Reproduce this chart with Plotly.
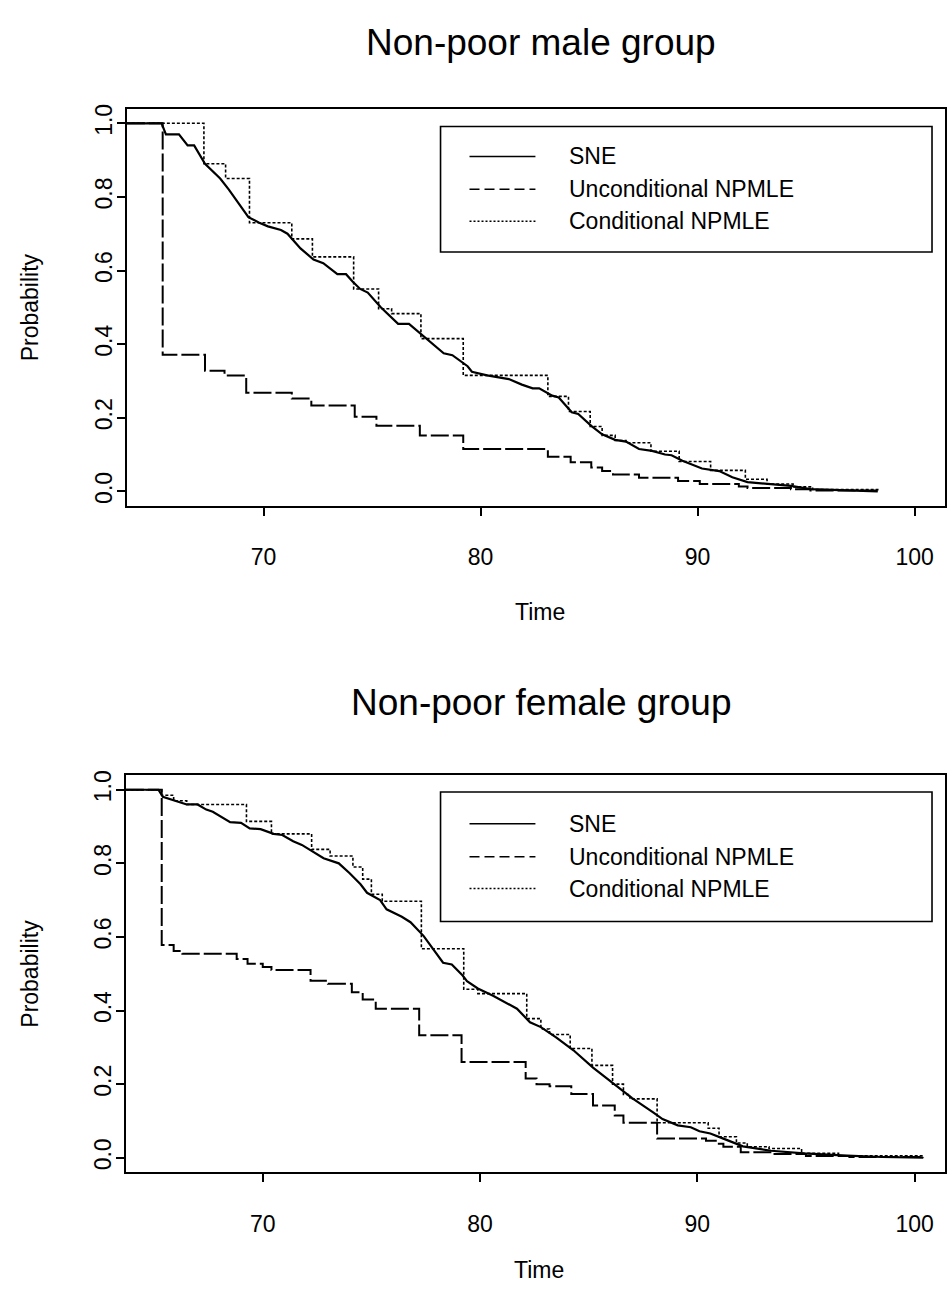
import plotly.graph_objects as go

# ---------------- data ----------------
# Non-poor male group
male_sne_t = [63.7, 65.3, 65.5, 66.1, 66.5, 66.8, 67.3, 68.0, 68.4, 69.3, 69.8, 70.2, 70.8, 71.1,
              71.7, 72.3, 72.75, 73.4, 73.8, 74.1, 74.45, 74.8, 75.4, 76.2, 76.7, 77.2, 78.3, 78.7,
              79.4, 79.6, 80.3, 81.3, 81.9, 82.4, 82.7, 83.3, 83.6, 84.2, 84.5, 85.1, 85.6, 86.2,
              86.7, 87.3, 87.9, 88.5, 88.8, 89.3, 90.2, 91.0, 91.6, 92.3, 94.3, 95.2, 98.3]
male_sne_p = [1.0, 1.0, 0.97, 0.97, 0.94, 0.94, 0.89, 0.85, 0.82, 0.745, 0.73, 0.72, 0.71, 0.70,
              0.66, 0.63, 0.62, 0.59, 0.59, 0.57, 0.55, 0.54, 0.50, 0.455, 0.455, 0.43, 0.375, 0.37,
              0.34, 0.325, 0.315, 0.305, 0.29, 0.28, 0.28, 0.26, 0.255, 0.215, 0.21, 0.178, 0.155, 0.14,
              0.135, 0.115, 0.11, 0.1, 0.098, 0.083, 0.062, 0.055, 0.038, 0.025, 0.015, 0.006, 0.0]

male_unc_t = [63.7, 65.35, 67.3, 68.2, 69.2, 71.3, 72.2, 74.2, 75.2, 77.2, 79.2, 83.1, 84.15,
              85.1, 85.6, 86.1, 87.3, 89.1, 90.1, 91.9, 92.3, 94.3, 95.2, 98.3]
male_unc_p = [1.0, 0.371, 0.328, 0.315, 0.268, 0.252, 0.233, 0.203, 0.178, 0.152, 0.115, 0.094, 0.079,
              0.065, 0.055, 0.046, 0.037, 0.028, 0.02, 0.013, 0.009, 0.006, 0.002, 0.0]

male_con_t = [63.7, 67.25, 68.25, 69.35, 71.3, 72.25, 74.15, 75.3, 75.9, 77.25, 79.2, 83.1, 84.05,
              85.05, 85.6, 86.2, 86.7, 87.85, 89.15, 90.6, 92.2, 93.2, 94.4, 95.3, 98.3]
male_con_p = [1.0, 0.89, 0.85, 0.73, 0.686, 0.637, 0.55, 0.496, 0.483, 0.415, 0.315, 0.258, 0.217,
              0.176, 0.152, 0.138, 0.132, 0.109, 0.081, 0.057, 0.033, 0.02, 0.012, 0.005, 0.0]

# Non-poor female group
female_sne_t = [63.7, 65.2, 65.4, 66.1, 66.5, 67.0, 67.4, 67.7, 68.5, 69.0, 69.4, 69.9, 70.5, 70.9,
                71.4, 71.8, 72.3, 72.8, 73.5, 74.0, 74.5, 74.8, 75.4, 75.7, 76.4, 76.8, 77.4, 77.8,
                78.3, 78.7, 79.2, 79.4, 79.9, 80.6, 81.2, 81.7, 82.3, 82.8, 83.5, 84.3, 85.2, 86.3,
                87.0, 88.0, 88.4, 89.1, 89.7, 90.1, 90.6, 91.2, 92.1, 93.4, 94.9, 96.9, 98.5, 100.4]
female_sne_p = [1.0, 1.0, 0.981, 0.968, 0.96, 0.96, 0.946, 0.94, 0.912, 0.91, 0.895, 0.893, 0.88, 0.877,
                0.86, 0.85, 0.832, 0.814, 0.80, 0.773, 0.743, 0.72, 0.70, 0.675, 0.655, 0.64, 0.603, 0.57,
                0.53, 0.525, 0.495, 0.48, 0.46, 0.44, 0.42, 0.405, 0.368, 0.355, 0.327, 0.292, 0.245, 0.195,
                0.162, 0.122, 0.105, 0.088, 0.083, 0.072, 0.066, 0.052, 0.031, 0.019, 0.012, 0.006, 0.002, 0.0]

female_unc_t = [63.7, 65.35, 65.9, 66.3, 68.8, 69.3, 70.0, 70.4, 72.2, 73.0, 74.1, 74.6, 75.2, 77.2,
                79.15, 82.1, 82.6, 83.2, 84.2, 85.2, 86.2, 86.6, 88.15, 90.4, 90.9, 91.2, 92.0, 93.5,
                95.0, 97.0, 100.4]
female_unc_p = [1.0, 0.578, 0.562, 0.554, 0.54, 0.527, 0.518, 0.51, 0.481, 0.473, 0.45, 0.43, 0.405, 0.333,
                0.26, 0.215, 0.2, 0.194, 0.173, 0.142, 0.115, 0.095, 0.052, 0.046, 0.038, 0.03, 0.015, 0.01,
                0.005, 0.002, 0.0]

female_con_t = [63.7, 65.35, 65.9, 66.5, 69.25, 70.4, 72.25, 73.1, 74.15, 74.6, 75.0, 75.5, 77.3, 79.25,
                79.9, 82.15, 82.8, 83.2, 84.15, 85.15, 86.1, 86.6, 86.9, 88.15, 90.5, 91.0, 91.8, 92.3,
                93.3, 94.8, 96.5, 100.4]
female_con_p = [1.0, 0.985, 0.97, 0.96, 0.914, 0.88, 0.838, 0.82, 0.79, 0.757, 0.716, 0.697, 0.568, 0.458,
                0.446, 0.378, 0.35, 0.335, 0.297, 0.251, 0.2, 0.172, 0.16, 0.095, 0.08, 0.057, 0.04, 0.03,
                0.025, 0.012, 0.005, 0.0]

series_names = ["SNE", "Unconditional NPMLE", "Conditional NPMLE"]
panel_titles = ["Non-poor male group", "Non-poor female group"]
x_ticks = [70, 80, 90, 100]
y_ticks = [0.0, 0.2, 0.4, 0.6, 0.8, 1.0]
x_title = "Time"
y_title = "Probability"

# ---------------- styling ----------------
W, H = 947, 1294
FONT = "Liberation Sans, Arial, Helvetica, sans-serif"
styles = [dict(color="black", width=2.2, dash="solid"),
          dict(color="black", width=2.0, dash="18px,4px"),
          dict(color="black", width=1.6, dash="3px,2px")]
legend_dash = ["solid", "10px,5px", "2px,2px"]
shapes_line = ["linear", "hv", "hv"]


def px(xp):
    return xp / W


def py(yp):
    return 1 - yp / H


fig = go.Figure()
panels = [
    ("x", "y", [(male_sne_t, male_sne_p), (male_unc_t, male_unc_p), (male_con_t, male_con_p)]),
    ("x2", "y2", [(female_sne_t, female_sne_p), (female_unc_t, female_unc_p), (female_con_t, female_con_p)]),
]
for xa, ya, data in panels:
    for (t, p), name, st, shp in zip(data, series_names, styles, shapes_line):
        fig.add_trace(go.Scatter(x=t, y=p, mode="lines", name=name, xaxis=xa, yaxis=ya,
                                 line=dict(color=st["color"], width=st["width"], dash=st["dash"], shape=shp),
                                 showlegend=False, hoverinfo="x+y+name"))

common_x = dict(range=[63.7, 101.4], tickvals=x_ticks, ticktext=[str(v) for v in x_ticks],
                showline=True, linecolor="black", linewidth=1.6, mirror=True,
                ticks="outside", ticklen=8, tickwidth=1.6, tickcolor="black",
                showgrid=False, zeroline=False, tickfont=dict(family=FONT, size=23, color="black"),
                ticklabelstandoff=22)
common_y = dict(range=[-0.04, 1.04], tickvals=y_ticks, ticktext=["%.1f" % v for v in y_ticks],
                showline=True, linecolor="black", linewidth=1.6, mirror=True,
                ticks="outside", ticklen=8, tickwidth=1.6, tickcolor="black", tickangle=-90,
                showgrid=False, zeroline=False, tickfont=dict(family=FONT, size=23, color="black"),
                ticklabelstandoff=-4)

# panel pixel boxes: (left, right, top, bottom)
boxes = [(127, 946, 104, 503), (126, 946, 773, 1172)]

fig.update_layout(
    width=W, height=H, margin=dict(l=0, r=0, t=0, b=0),
    paper_bgcolor="white", plot_bgcolor="white", showlegend=False,
    font=dict(family=FONT, color="black"),
    xaxis=dict(domain=[px(boxes[0][0]), px(boxes[0][1])], anchor="y", **common_x),
    yaxis=dict(domain=[py(boxes[0][3]), py(boxes[0][2])], anchor="x", **common_y),
    xaxis2=dict(domain=[px(boxes[1][0]), px(boxes[1][1])], anchor="y2", **common_x),
    yaxis2=dict(domain=[py(boxes[1][3]), py(boxes[1][2])], anchor="x2", **common_y),
)

annotations = []
shapes = []
title_y = [38, 700]
xlab_y = [609, 1270]
legend_boxes = [(441, 933, 122, 248), (441, 933, 790, 920)]
legend_rows = [[152, 185, 217], [822, 855, 887]]
for i in range(2):
    l, r, t, b = boxes[i]
    annotations.append(dict(text=panel_titles[i], x=px(542), y=py(title_y[i]), xref="paper", yref="paper",
                            xanchor="center", yanchor="middle", showarrow=False,
                            font=dict(family=FONT, size=37, color="black")))
    annotations.append(dict(text=x_title, x=px((l + r) / 2 + 4), y=py(xlab_y[i]), xref="paper", yref="paper",
                            xanchor="center", yanchor="middle", showarrow=False,
                            font=dict(family=FONT, size=23, color="black")))
    annotations.append(dict(text=y_title, x=px(30), y=py((t + b) / 2), xref="paper", yref="paper",
                            xanchor="center", yanchor="middle", showarrow=False, textangle=-90,
                            font=dict(family=FONT, size=23, color="black")))
    # legend (drawn manually to match the long line samples)
    lx0, lx1, ly0, ly1 = legend_boxes[i]
    shapes.append(dict(type="rect", xref="paper", yref="paper", x0=px(lx0), x1=px(lx1),
                       y0=py(ly1), y1=py(ly0), line=dict(color="black", width=1.6),
                       fillcolor="white", layer="above"))
    for name, st, ld, ry in zip(series_names, styles, legend_dash, legend_rows[i]):
        shapes.append(dict(type="line", xref="paper", yref="paper", x0=px(470), x1=px(536),
                           y0=py(ry), y1=py(ry), layer="above",
                           line=dict(color="black", width=1.5, dash=ld)))
        annotations.append(dict(text=name, x=px(568), y=py(ry), xref="paper", yref="paper",
                                xanchor="left", yanchor="middle", showarrow=False,
                                font=dict(family=FONT, size=23, color="black")))

fig.update_layout(annotations=annotations, shapes=shapes)
fig.write_html("out.html")
